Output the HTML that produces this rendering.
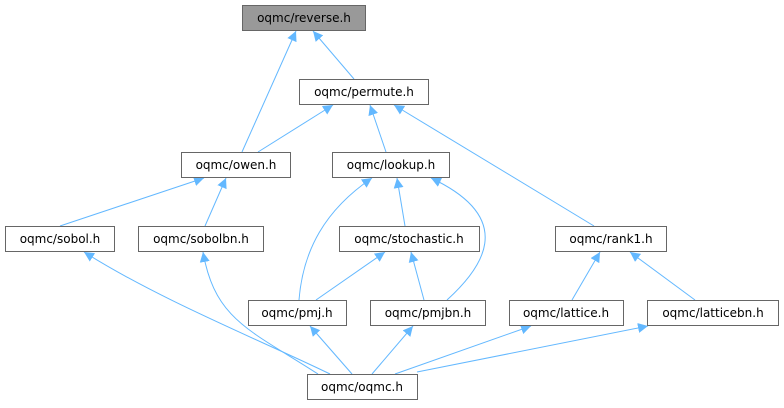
<!DOCTYPE html>
<html><head><meta charset="utf-8"><style>
body{margin:0;background:#fff}
text{font-family:"DejaVu Sans","Liberation Sans",sans-serif;font-size:12px;fill:#000}
</style></head><body>
<svg width="784" height="403" viewBox="0 0 784 403" xmlns="http://www.w3.org/2000/svg">
<defs><marker id="a" viewBox="0 0 10 10" refX="10" refY="5" markerWidth="10" markerHeight="10" markerUnits="userSpaceOnUse" orient="auto"><path d="M0,0 L10,5 L0,10 z" fill="#63b8ff"/></marker></defs>
<g stroke="#63b8ff" stroke-width="1" fill="none" marker-end="url(#a)">
<path d="M242,152 L296,31"/>
<path d="M354,79 L313,31"/>
<path d="M258,152 L333,105"/>
<path d="M386,152 L370,105"/>
<path d="M594,226 L394,105"/>
<path d="M60,226 L204,178"/>
<path d="M205,226 L226,178"/>
<path d="M405,226 L397,178"/>
<path d="M299,300 C303,250 325,210 372,178"/>
<path d="M447,300 C480,270 520,220 431,178"/>
<path d="M316,300 L385,252"/>
<path d="M424,300 L411,252"/>
<path d="M572,300 L600,252"/>
<path d="M695,300 L630,252"/>
<path d="M330,374 C260,340 160,300 84,252"/>
<path d="M318,374 C250,330 215,320 203,252"/>
<path d="M352,374 L310,326"/>
<path d="M372,374 L413,326"/>
<path d="M395,374 L531,326"/>
<path d="M417,372 L648,326"/>
</g>
<g stroke="#666" stroke-width="1">
<rect x="242.5" y="5.5" width="123" height="25" fill="#999"/>
<rect x="299.5" y="79.5" width="129" height="25" fill="#fff"/>
<rect x="181.5" y="152.5" width="109" height="25" fill="#fff"/>
<rect x="332.5" y="152.5" width="117" height="25" fill="#fff"/>
<rect x="5.5" y="226.5" width="109" height="25" fill="#fff"/>
<rect x="138.5" y="226.5" width="125" height="25" fill="#fff"/>
<rect x="339.5" y="226.5" width="140" height="25" fill="#fff"/>
<rect x="555.5" y="226.5" width="111" height="25" fill="#fff"/>
<rect x="248.5" y="300.5" width="98" height="25" fill="#fff"/>
<rect x="370.5" y="300.5" width="115" height="25" fill="#fff"/>
<rect x="509.5" y="300.5" width="114" height="25" fill="#fff"/>
<rect x="647.5" y="300.5" width="131" height="25" fill="#fff"/>
<rect x="307.5" y="374.5" width="110" height="25" fill="#fff"/>
</g>
<g text-anchor="middle">
<text x="304" y="22">oqmc/reverse.h</text>
<text x="364" y="96">oqmc/permute.h</text>
<text x="236" y="169">oqmc/owen.h</text>
<text x="391" y="169">oqmc/lookup.h</text>
<text x="60" y="243">oqmc/sobol.h</text>
<text x="201" y="243">oqmc/sobolbn.h</text>
<text x="409" y="243">oqmc/stochastic.h</text>
<text x="611" y="243">oqmc/rank1.h</text>
<text x="297" y="317">oqmc/pmj.h</text>
<text x="428" y="317">oqmc/pmjbn.h</text>
<text x="566" y="317">oqmc/lattice.h</text>
<text x="713" y="317">oqmc/latticebn.h</text>
<text x="362" y="391">oqmc/oqmc.h</text>
</g>
</svg>
</body></html>
